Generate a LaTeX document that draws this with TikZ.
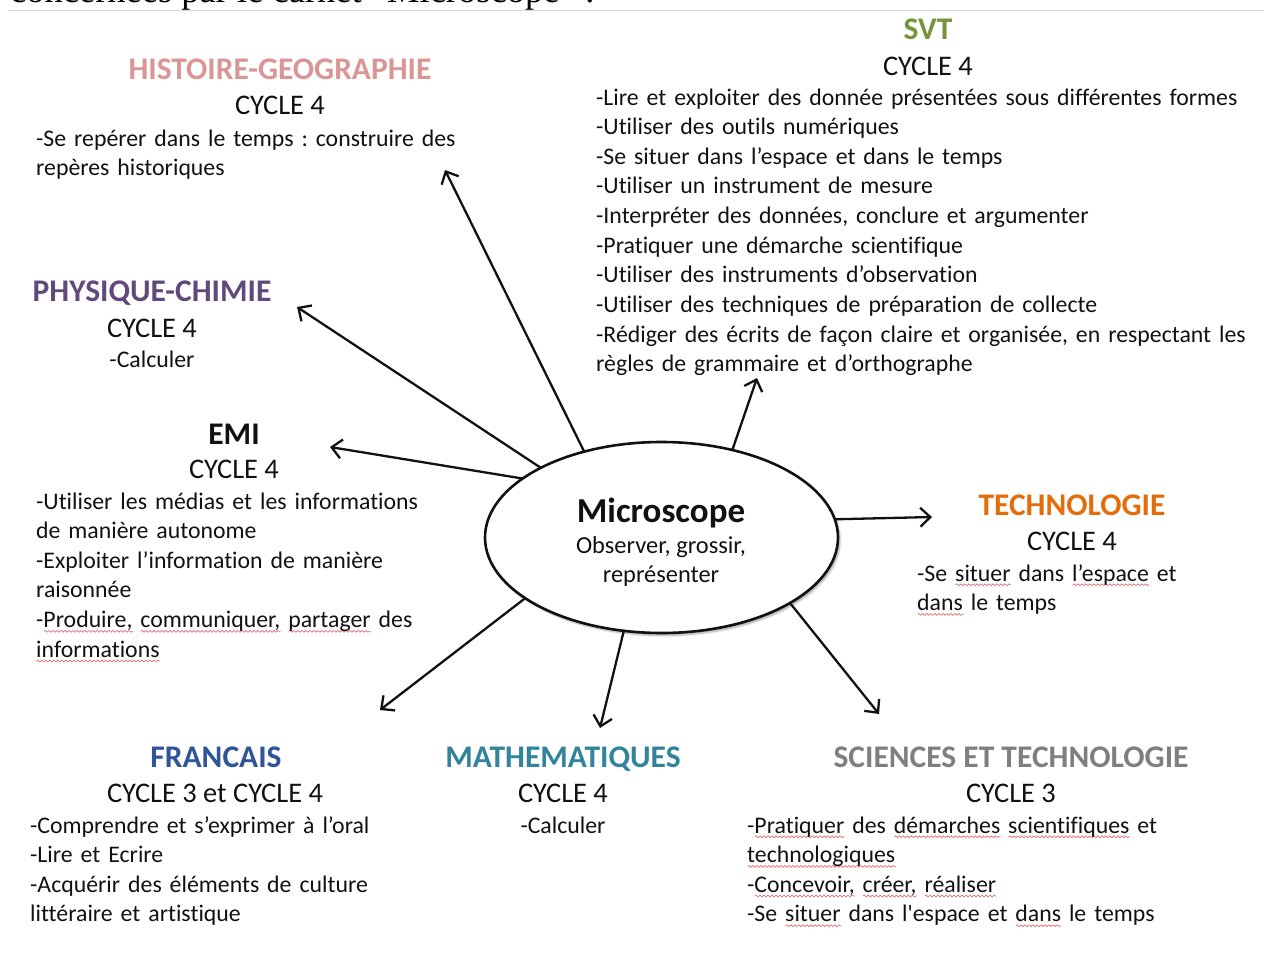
\documentclass[tikz,border=0pt]{standalone}
\usepackage{fontspec}
\setmainfont{Carlito}[Ligatures={TeX,NoCommon}]
\newfontfamily\introface{Liberation Serif}
\usetikzlibrary{arrows.meta,shapes.geometric,shadows.blur,decorations.pathmorphing}
\frenchspacing

\definecolor{svtgreen}{HTML}{77933C}
\definecolor{histpink}{HTML}{D99694}
\definecolor{phyviolet}{HTML}{604A7B}
\definecolor{techorange}{HTML}{E46C0A}
\definecolor{frblue}{HTML}{2F5597}
\definecolor{mathteal}{HTML}{31849B}
\definecolor{scigray}{HTML}{7F7F7F}
\definecolor{sqred}{HTML}{E36C6C}
\definecolor{rulegray}{HTML}{D9D9D9}
\definecolor{ink}{HTML}{111111}

% red wavy underline for a single word
\newsavebox\sqbox
\newlength\sqwd
\newcommand\sq[1]{\leavevmode\sbox\sqbox{#1}\setlength\sqwd{\wd\sqbox}%
  \rlap{\raisebox{-5pt}[0pt][0pt]{\tikz[x=1pt,y=1pt]\draw[sqred,line width=0.7pt,decorate,
    decoration={snake,amplitude=0.9pt,segment length=4pt}] (0,0) -- (\sqwd,0);}}%
  \usebox\sqbox}

\tikzset{
  title/.style={anchor=base, inner sep=0, font=\bfseries\fontsize{31.5}{36}\selectfont},
  cycle/.style={anchor=base, inner sep=0, text=ink, font=\fontsize{28.4}{34}\selectfont},
  body/.style={anchor=base west, inner sep=0, text=ink, align=left, text width=#1,
    font=\fontsize{23.8}{29.65}\selectfont},
  body/.default=700pt,
  bodyc/.style={anchor=base, inner sep=0, text=ink, font=\fontsize{23.8}{29.65}\selectfont},
  arr/.style={line width=2.3pt, ink, -{Straight Barb[length=10pt,width=19pt,line width=2.3pt]}},
}

\begin{document}
\begin{tikzpicture}[x=1pt,y=-1pt]
\useasboundingbox (0,0) rectangle (1264,958);
\clip (0,0) rectangle (1264,958);

% heading line of the page, cut at the top
\node[anchor=base west, inner sep=0, font=\introface\fontsize{36.5}{44}\selectfont] (intro) at (10,3) {concernées par le carnet “Microscope” :};
\coordinate (ruleL) at (8,10.5);
\coordinate (ruleR) at (1264,10.5);
\draw[rulegray, line width=1.5pt] (ruleL) -- (ruleR);

% central ellipse
\node[ellipse, draw=ink, line width=2.6pt, fill=white, minimum width=353pt, minimum height=191pt,
      inner sep=0, outer sep=0,
      blur shadow={shadow xshift=2pt, shadow yshift=-2.5pt, shadow blur steps=6, shadow opacity=35}]
      (mic) at (661.5,537.5) {};
\node[anchor=base, inner sep=0, text=ink, font=\bfseries\fontsize{35}{40}\selectfont] (micT) at (661,522) {Microscope};
\node[anchor=base, inner sep=0, text=ink, font=\fontsize{24.4}{29.65}\selectfont] (micA) at (661,553) {Observer, grossir,};
\node[anchor=base, inner sep=0, text=ink, font=\fontsize{24.4}{29.65}\selectfont] (micB) at (661,582) {représenter};

% SVT
\node[title, text=svtgreen] (svt) at (928,40) {SVT};
\node[cycle] (svtC) at (928,75) {CYCLE 4};
\node[body] (svtB) at (596,105) {-Lire et exploiter des donnée présentées sous différentes formes\\
-Utiliser des outils numériques\\
-Se situer dans l’espace et dans le temps\\
-Utiliser un instrument de mesure\\
-Interpréter des données, conclure et argumenter\\
-Pratiquer une démarche scientifique\\
-Utiliser des instruments d’observation\\
-Utiliser des techniques de préparation de collecte\\
-Rédiger des écrits de façon claire et organisée, en respectant les\\
règles de grammaire et d’orthographe};

% Histoire-Geographie
\node[title, text=histpink] (hist) at (280,80) {HISTOIRE-GEOGRAPHIE};
\node[cycle] (histC) at (280,114) {CYCLE 4};
\node[body=500pt] (histB) at (36,146) {-Se repérer dans le temps : construire des\\
repères historiques};

% Physique-Chimie
\node[title, text=phyviolet] (phy) at (152,301) {PHYSIQUE-CHIMIE};
\node[cycle] (phyC) at (152,337) {CYCLE 4};
\node[bodyc] (phyB) at (152,367) {-Calculer};

% EMI
\node[title, text=ink] (emi) at (234,444) {EMI};
\node[cycle] (emiC) at (234,478) {CYCLE 4};
\node[body=500pt] (emiB) at (36,509) {-Utiliser les médias et les informations\\
de manière autonome\\
-Exploiter l’information de manière\\
raisonnée\\
-\sq{Produire,} \sq{communiquer,} \sq{partager} des\\
\sq{informations}};

% Technologie
\node[title, text=techorange] (tech) at (1072,515) {TECHNOLOGIE};
\node[cycle] (techC) at (1072,550) {CYCLE 4};
\node[body=340pt] (techB) at (917,581) {-Se \sq{situer} dans \sq{l’espace} et\\
\sq{dans} le temps};

% Francais
\node[title, text=frblue] (fr) at (216,767) {FRANCAIS};
\node[cycle] (frC) at (215,802) {CYCLE 3 et CYCLE 4};
\node[body=420pt] (frB) at (30,833) {-Comprendre et s’exprimer à l’oral\\
-Lire et Ecrire\\
-Acquérir des éléments de culture\\
littéraire et artistique};

% Mathematiques
\node[title, text=mathteal] (math) at (563,767) {MATHEMATIQUES};
\node[cycle] (mathC) at (563,802) {CYCLE 4};
\node[bodyc] (mathB) at (563,833) {-Calculer};

% Sciences et technologie
\node[title, text=scigray] (sci) at (1011,767) {SCIENCES ET TECHNOLOGIE};
\node[cycle] (sciC) at (1011,802) {CYCLE 3};
\node[body=510pt] (sciB) at (747,833) {-\sq{Pratiquer} des \sq{démarches} \sq{scientifiques} et\\
\sq{technologiques}\\
-\sq{Concevoir,} \sq{créer,} \sq{réaliser}\\
-Se \sq{situer} dans l\textquotesingle espace et \sq{dans} le temps};

% arrow tips
\coordinate (tHist) at (445,170);
\coordinate (tPhy) at (297,307);
\coordinate (tEmi) at (330,447);
\coordinate (tSvt) at (757,378);
\coordinate (tTech) at (932,517);
\coordinate (tSci) at (879,714);
\coordinate (tMath) at (600,728);
\coordinate (tFr) at (380,710);

% arrows leaving the ellipse
\draw[arr] (mic.132.3) -- (tHist);
\draw[arr] (mic.150.9) -- (tPhy);
\draw[arr] (mic.157) -- (tEmi);
\draw[arr] (mic.51.3) -- (tSvt);
\draw[arr] (mic.6.8) -- (tTech);
\draw[arr] (mic.-27.1) -- (tSci);
\draw[arr] (mic.-112.7) -- (tMath);
\draw[arr] (mic.204.3) -- (tFr);
\end{tikzpicture}
\end{document}
